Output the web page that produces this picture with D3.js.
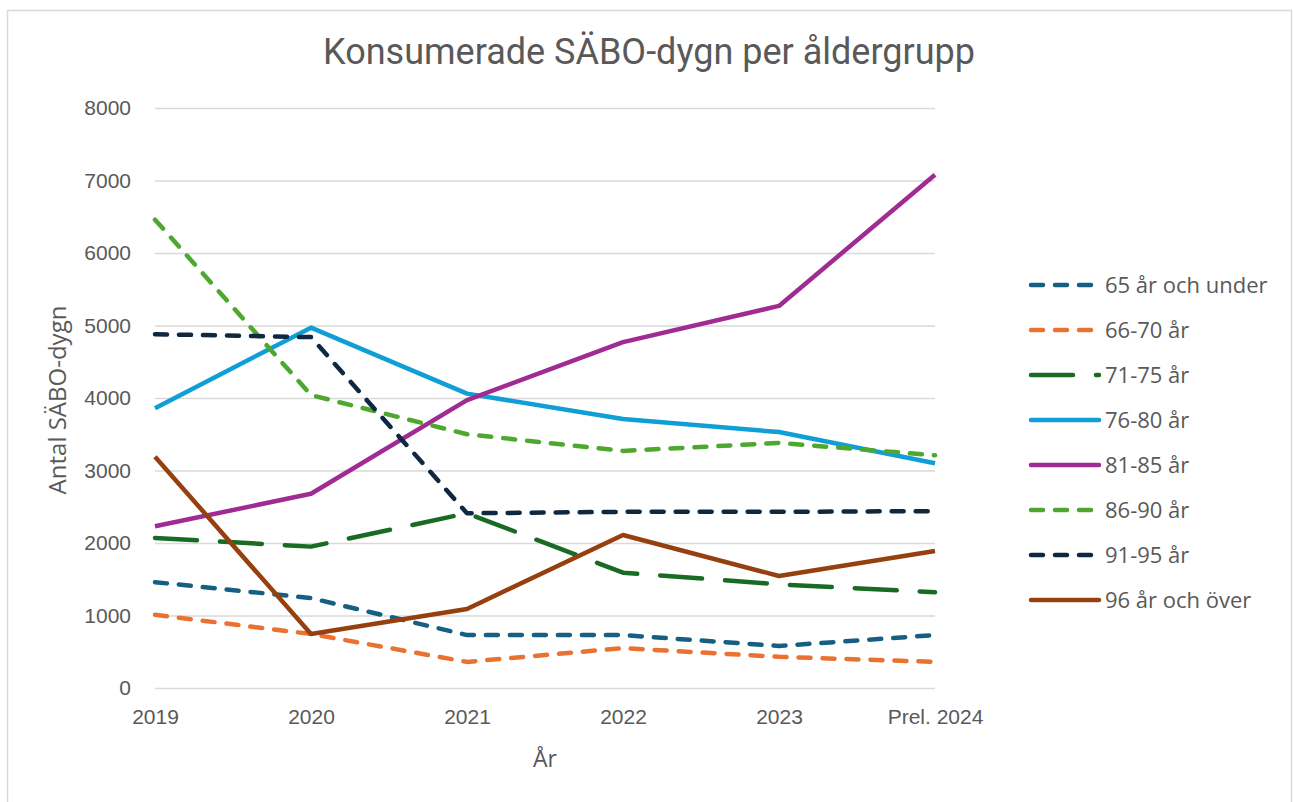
<!DOCTYPE html>
<html lang="sv">
<head>
<meta charset="UTF-8">
<title>Konsumerade SÄBO-dygn</title>
<style>
  body { margin: 0; padding: 0; background: #fff; }
  svg { display: block; font-family: "Open Sans", "Liberation Sans", sans-serif; }
</style>
</head>
<body>
<script src="https://d3js.org/d3.v7.min.js"></script>
<script>
const width = 1293
const height = 802

const years = ['2019', '2020', '2021', '2022', '2023', 'Prel. 2024']
const yTicks = [0, 1000, 2000, 3000, 4000, 5000, 6000, 7000, 8000]

const groups = ['65 år och under', '66-70 år', '71-75 år', '76-80 år', '81-85 år', '86-90 år', '91-95 år', '96 år och över']
const under65 = [1460, 1240, 730, 730, 580, 730]
const age66_70 = [1010, 745, 360, 550, 430, 360]
const age71_75 = [2070, 1950, 2410, 1590, 1430, 1320]
const age76_80 = [3860, 4970, 4060, 3710, 3530, 3100]
const age81_85 = [2230, 2680, 3970, 4770, 5270, 7080]
const age86_90 = [6460, 4040, 3500, 3270, 3380, 3210]
const age91_95 = [4880, 4840, 2410, 2430, 2430, 2440]
const over96 = [3190, 745, 1090, 2110, 1545, 1890]

const values = [under65, age66_70, age71_75, age76_80, age81_85, age86_90, age91_95, over96]
const colors = ['#156082', '#E97132', '#196B24', '#0F9ED5', '#A02B93', '#4EA72E', '#0E2841', '#96400F']
const dashes = ['12 12', '12 12', '42 23', null, null, '12 12', '12 12', null]

const margin = { left: 155, right: 358, top: 108, bottom: 114 }
const textColor = '#595959'

const svg = d3.select('body').append('svg')
  .attr('width', width)
  .attr('height', height)

// chart frame
svg.append('rect')
  .attr('x', 7.5).attr('y', 10.5)
  .attr('width', 1284).attr('height', 800)
  .attr('fill', 'none')
  .attr('stroke', '#d9d9d9')
  .attr('stroke-width', 1.5)

const x = d3.scalePoint()
  .domain(years)
  .range([margin.left, width - margin.right])

const y = d3.scaleLinear()
  .domain([0, 8000])
  .range([height - margin.bottom, margin.top])

// gridlines + y axis
const yAxis = d3.axisLeft(y)
  .tickValues(yTicks)
  .tickSize(-(width - margin.right - margin.left))
  .tickPadding(24)
  .tickFormat(d3.format('d'))

svg.append('g')
  .attr('transform', `translate(${margin.left},0)`)
  .call(yAxis)
  .call(g => g.select('.domain').remove())
  .call(g => g.selectAll('.tick line').attr('stroke', '#d9d9d9').attr('stroke-width', 1.5))
  .call(g => g.selectAll('.tick text').attr('fill', textColor).attr('font-size', 21))

// x axis
const xAxis = d3.axisBottom(x).tickSize(0).tickPadding(21)
svg.append('g')
  .attr('transform', `translate(0,${height - margin.bottom})`)
  .call(xAxis)
  .call(g => g.select('.domain').remove())
  .call(g => g.selectAll('.tick text').attr('fill', textColor).attr('font-size', 21))

// lines
const line = d3.line()
  .x((d, i) => x(years[i]))
  .y(d => y(d))

svg.append('g')
  .selectAll('path')
  .data(values)
  .join('path')
  .attr('d', line)
  .attr('fill', 'none')
  .attr('stroke', (d, i) => colors[i])
  .attr('stroke-width', 4.5)
  .attr('stroke-dasharray', (d, i) => dashes[i])
  .attr('stroke-linecap', (d, i) => dashes[i] ? 'round' : 'butt')
  .attr('stroke-linejoin', 'round')

// titles
svg.append('text')
  .attr('x', 649).attr('y', 64)
  .attr('text-anchor', 'middle')
  .attr('fill', textColor)
  .attr('font-family', 'Roboto, sans-serif')
  .attr('font-size', 36)
  .text('Konsumerade SÄBO-dygn per åldergrupp')

svg.append('text')
  .attr('transform', `translate(66,${(y(0) + y(8000)) / 2 + 2}) rotate(-90)`)
  .attr('text-anchor', 'middle')
  .attr('fill', textColor)
  .attr('font-size', 24)
  .text('Antal SÄBO-dygn')

svg.append('text')
  .attr('x', 545).attr('y', 767)
  .attr('text-anchor', 'middle')
  .attr('fill', textColor)
  .attr('font-size', 23)
  .text('År')

// legend
const legend = svg.append('g')
  .attr('transform', 'translate(1029,285)')
  .selectAll('g')
  .data(groups)
  .join('g')
  .attr('transform', (d, i) => `translate(0,${i * 45})`)

legend.append('line')
  .attr('x1', 2).attr('x2', 70)
  .attr('stroke', (d, i) => colors[i])
  .attr('stroke-width', 4.5)
  .attr('stroke-dasharray', (d, i) => dashes[i])
  .attr('stroke-linecap', 'round')

legend.append('text')
  .attr('x', 76).attr('y', 8)
  .attr('fill', textColor)
  .attr('font-size', 22)
  .text(d => d)
</script>
</body>
</html>
